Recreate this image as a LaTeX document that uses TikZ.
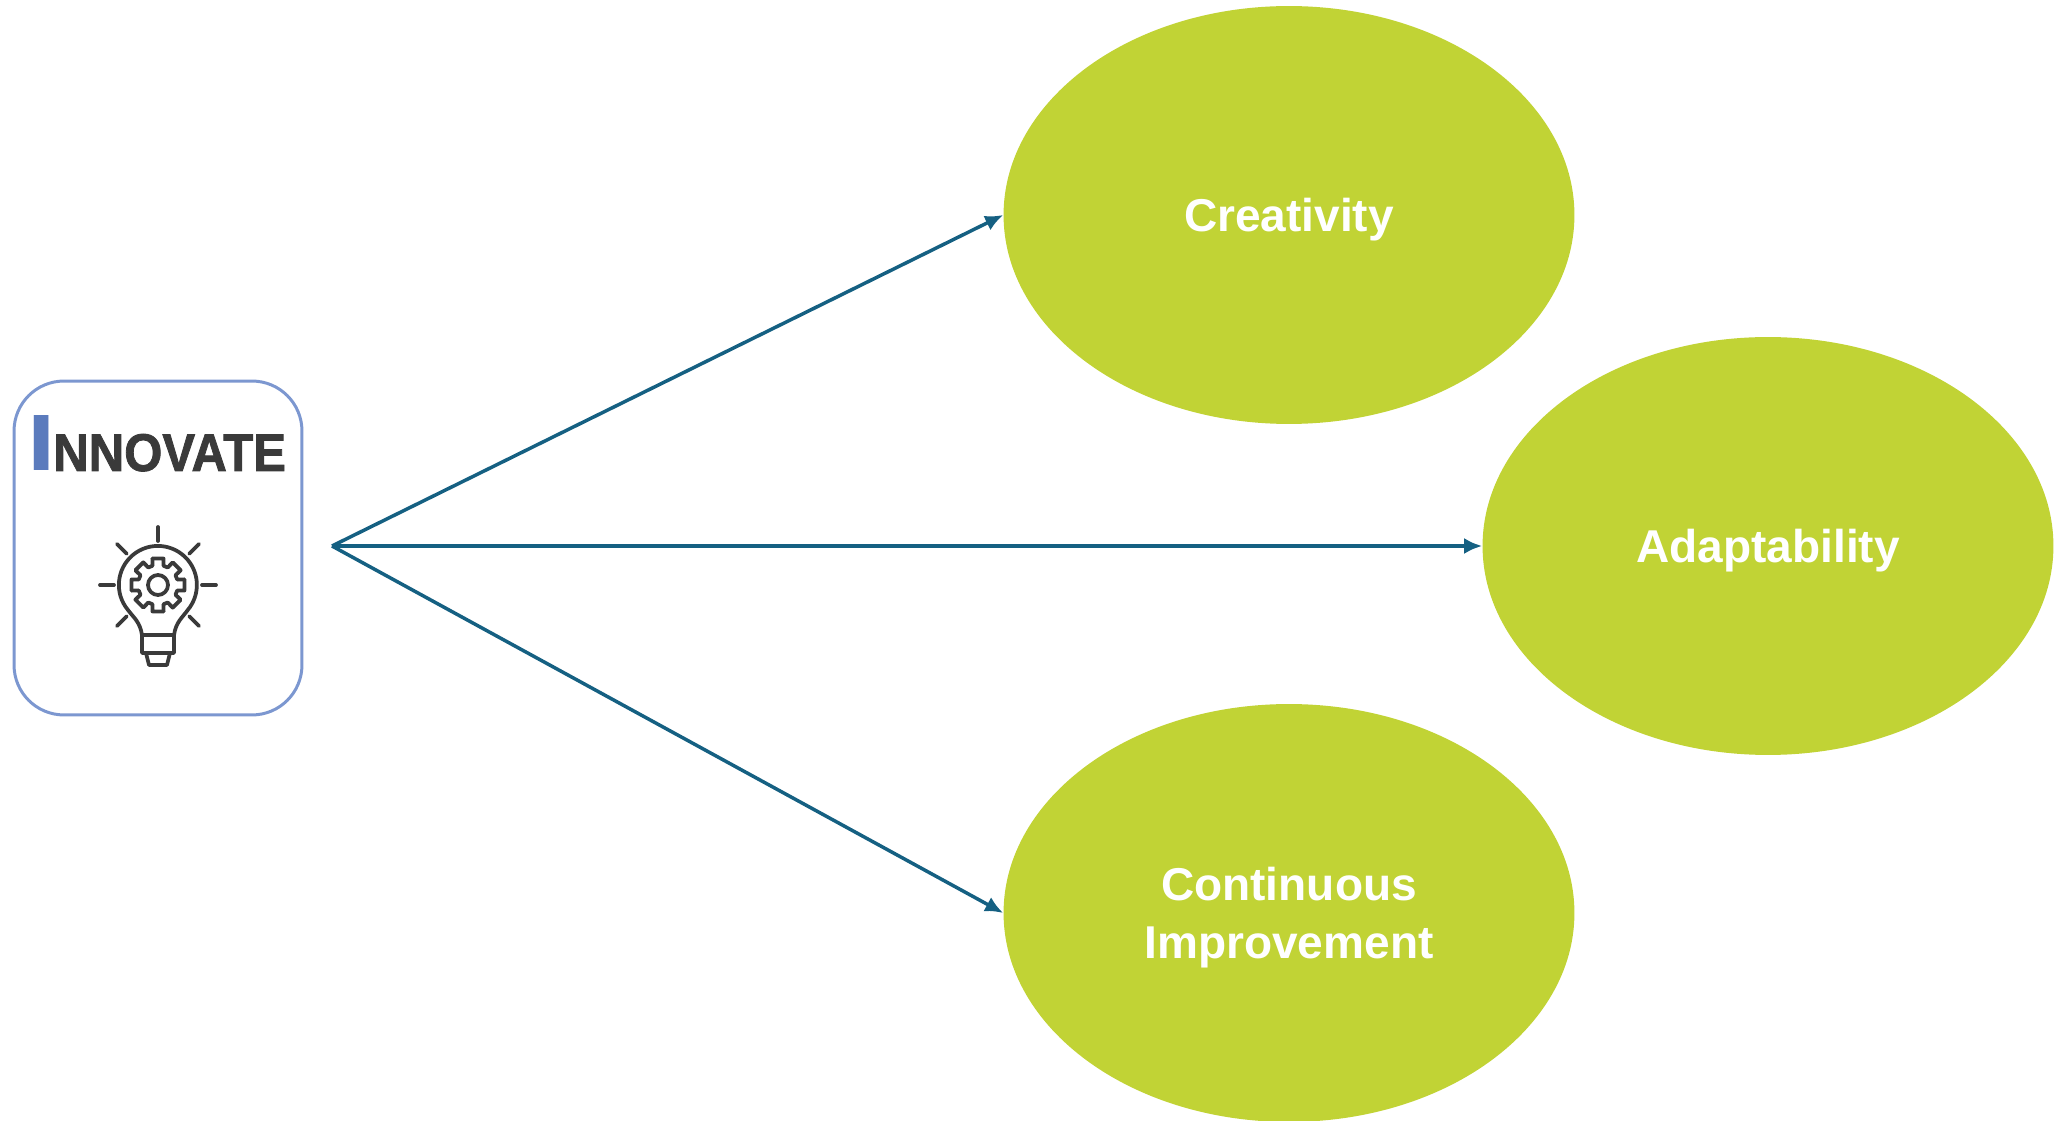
\documentclass[tikz,border=0pt]{standalone}
\usepackage{fontspec}
\setmainfont{Liberation Sans}
\newfontfamily\wordfont[FakeBold=1.6]{Liberation Sans Bold}
\usetikzlibrary{arrows.meta,calc,positioning,shapes.geometric}
\definecolor{limefill}{HTML}{C1D335}
\definecolor{arrowblue}{HTML}{156082}
\definecolor{boxblue}{HTML}{7C97D0}
\definecolor{barblue}{HTML}{5B7BBD}
\definecolor{inkgrey}{HTML}{3A3A3A}
\tikzset{
	topic/.style={ellipse,fill=limefill,minimum width=11.42cm,minimum height=8.36cm,inner sep=0pt,text=white,text depth=0pt,align=center,font=\fontsize{26.2}{33}\selectfont\bfseries},
	link/.style={draw=arrowblue,line width=0.07cm,-{Latex[length=0.36cm,width=0.32cm]}},
	bulbline/.style={draw=inkgrey,line width=0.075cm,line cap=round,line join=round},
}

\begin{document}
\begin{tikzpicture}[x=0.02cm,y=-0.02cm]
	\useasboundingbox (0,0) rectangle (2067,1121);
	
	\node[draw=boxblue,line width=0.06cm,rounded corners=1cm,minimum width=5.76cm,minimum height=6.68cm] (box) at (158,548) {};
	\node[anchor=base east,inner sep=0pt,text=barblue,font=\fontsize{45.5}{45.5}\selectfont\bfseries,xscale=1.27] (initial) at (56,471) {I};
	\node[anchor=base west,inner sep=0pt,text=inkgrey,font=\fontsize{30.2}{30.2}\selectfont\wordfont,xscale=0.925] (word) at (53,471) {NNOVATE};
	
	\node[topic] (creativity) at (1289,215) {Creativity};
	\node[topic] (adaptability) at (1768,546) {Adaptability};
	\node[topic] (continuous) at (1289,913) {Continuous\\Improvement};
	
	\coordinate (hub) at (332,546);
	\draw[link] (hub) -- (creativity.west);
	\draw[link] (hub) -- (adaptability.west);
	\draw[link] (hub) -- (continuous.west);
	
	% bulb
	\coordinate (gear) at (158,585);
	\foreach \ang in {0,45,90,135,180,225,315} {
		\draw[bulbline] ($(gear)+(\ang:0.88cm)$) -- ($(gear)+(\ang:1.16cm)$);
	}
	\draw[bulbline] (142,635) .. controls (140,622) and (134,618) .. (128,610)
		arc[start angle=140,end angle=400,radius=39]
		.. controls (182,618) and (176,622) .. (174,635);
	\draw[bulbline] (142,635) -- (174,635) -- (174,653) -- (142,653) -- cycle;
	\draw[bulbline] (146,653) -- (149,665) -- (167,665) -- (170,653);
	\draw[bulbline] (gear) circle[radius=10];
	\foreach \ang in {0,45,...,315} {
		\draw[bulbline] ($(gear)+(\ang-12:27)$) -- ($(gear)+(\ang+12:27)$) -- ($(gear)+(\ang+16:20)$) arc[start angle=\ang+16,end angle=\ang+29,radius=20];
		\draw[bulbline] ($(gear)+(\ang-12:27)$) -- ($(gear)+(\ang-16:20)$);
	}
\end{tikzpicture}
\end{document}
